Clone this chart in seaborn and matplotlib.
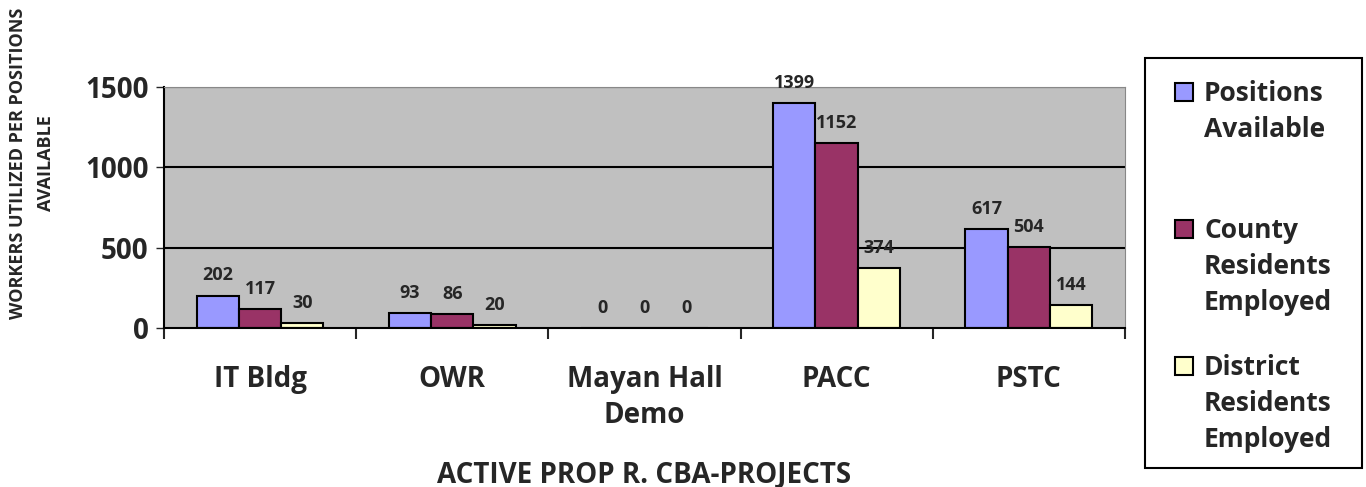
import pandas as pd
import matplotlib.pyplot as plt
import seaborn as sns

# chart data
projects = ['IT Bldg', 'OWR', 'Mayan Hall\nDemo', 'PACC', 'PSTC']
positions = [202, 93, 0, 1399, 617]
county = [117, 86, 0, 1152, 504]
district = [30, 20, 0, 374, 144]
series = ['Positions\nAvailable', 'County\nResidents\nEmployed', 'District\nResidents\nEmployed']
colors = ['#9999FF', '#993366', '#FFFFCC']

rows = []
for name, vals in zip(series, [positions, county, district]):
    for p, v in zip(projects, vals):
        rows.append({'Project': p, 'Series': name, 'Value': v})
df = pd.DataFrame(rows)

sns.set_style('white')
plt.rcParams['font.family'] = ['Open Sans', 'DejaVu Sans']
plt.rcParams['font.weight'] = 'bold'

fig = plt.figure(figsize=(13.66, 4.87), dpi=100)
ax = fig.add_axes([0.12, 0.3265, 0.7035, 0.495])

sns.barplot(data=df, x='Project', y='Value', hue='Series', palette=colors,
            saturation=1, width=0.66, edgecolor='black', linewidth=1.5,
            ax=ax, legend=False)

ax.set_facecolor('#C0C0C0')
ax.set_ylim(0, 1500)
ax.set_xlim(-0.5, len(projects) - 0.5)
ax.set_yticks([0, 500, 1000, 1500])
for y in [500, 1000, 1500]:
    ax.axhline(y, color='black', lw=1.5, zorder=0.5)

for c in ax.containers:
    ax.bar_label(c, padding=8, fontsize=13, fontweight='bold')

ax.tick_params(axis='y', labelsize=20, length=6, width=1, direction='out', left=True, pad=5)
ax.tick_params(axis='x', which='major', labelsize=20, length=0, pad=27)
ax.set_xticks([i + 0.5 for i in range(-1, len(projects))], minor=True)
ax.tick_params(axis='x', which='minor', length=8, width=1.5, direction='out', bottom=True)
for lbl in ax.get_xticklabels() + ax.get_yticklabels():
    lbl.set_fontweight('bold')
    lbl.set_linespacing(1.3)

for s in ['top', 'right']:
    ax.spines[s].set_color('#888888')
for s in ['left', 'bottom']:
    ax.spines[s].set_color('black')
    ax.spines[s].set_linewidth(1.5)

ax.set_xlabel('ACTIVE PROP R. CBA-PROJECTS', fontsize=20, fontweight='bold', va='center')
ax.xaxis.set_label_coords(0.5, -0.61)
ax.set_ylabel('')
fig.text(0.0234, 0.665, 'WORKERS UTILIZED PER POSITIONS\nAVAILABLE', rotation=90,
         ha='center', va='center', fontsize=13, fontweight='bold', linespacing=1.65)

# legend box drawn in figure pixels like the original
W, H = 1366, 487
fig.patches.append(plt.Rectangle((1145 / W, 1 - 468 / H), 217 / W, 410 / H,
                                 transform=fig.transFigure, facecolor='white',
                                 edgecolor='black', lw=1.5))
for name, col, top in zip(series, colors, [83, 220, 357]):
    fig.patches.append(plt.Rectangle((1175 / W, 1 - (top + 18) / H), 18 / W, 18 / H,
                                     transform=fig.transFigure, facecolor=col,
                                     edgecolor='black', lw=1.5))
    fig.text(1204 / W, 1 - (top - 3) / H, name, ha='left', va='top',
             fontsize=19, fontweight='bold', linespacing=1.43)

fig.savefig('out.png', dpi=100)
